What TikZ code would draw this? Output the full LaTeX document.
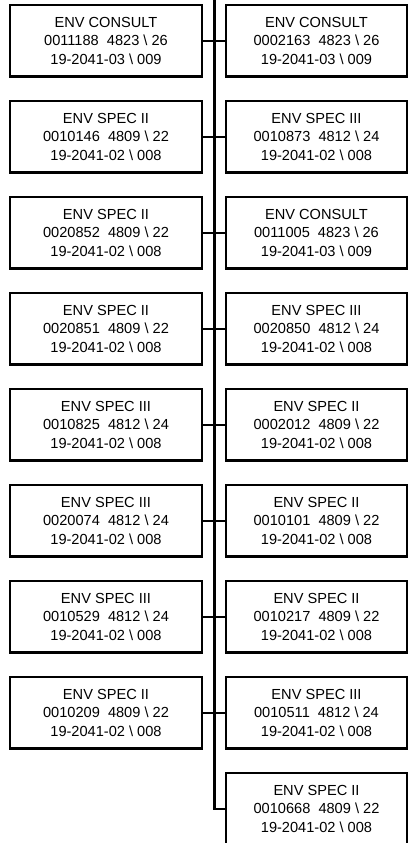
\documentclass[tikz,border=0pt]{standalone}
\usepackage{fontspec}
\setmainfont{Liberation Sans}
\newcommand{\bs}{\ \textbackslash\ }
\newcommand{\gap}{\ \ }
\begin{document}
\begin{tikzpicture}[x=1pt,y=-1pt,
  card/.style={draw=black, line width=2.3pt, rectangle, minimum height=71.5pt,
    inner sep=0pt, align=center, font=\fontsize{14.6}{18.3}\selectfont},
  lcard/.style={card, minimum width=192pt},
  rcard/.style={card, minimum width=181pt},
  link/.style={draw=black, line width=2.3pt}]
\useasboundingbox (0,0) rectangle (409,843);
\clip (0,0) rectangle (409,843);
% left column
\node[lcard] (l1) at (106,40.75) {ENV CONSULT\\0011188\gap4823\bs26\\19-2041-03\bs009};
\node[lcard] (l2) at (106,136.75) {ENV SPEC II\\0010146\gap4809\bs22\\19-2041-02\bs008};
\node[lcard] (l3) at (106,232.75) {ENV SPEC II\\0020852\gap4809\bs22\\19-2041-02\bs008};
\node[lcard] (l4) at (106,328.75) {ENV SPEC II\\0020851\gap4809\bs22\\19-2041-02\bs008};
\node[lcard] (l5) at (106,424.75) {ENV SPEC III\\0010825\gap4812\bs24\\19-2041-02\bs008};
\node[lcard] (l6) at (106,520.75) {ENV SPEC III\\0020074\gap4812\bs24\\19-2041-02\bs008};
\node[lcard] (l7) at (106,616.75) {ENV SPEC III\\0010529\gap4812\bs24\\19-2041-02\bs008};
\node[lcard] (l8) at (106,712.75) {ENV SPEC II\\0010209\gap4809\bs22\\19-2041-02\bs008};
% right column
\node[rcard] (r1) at (316.5,40.75) {ENV CONSULT\\0002163\gap4823\bs26\\19-2041-03\bs009};
\node[rcard] (r2) at (316.5,136.75) {ENV SPEC III\\0010873\gap4812\bs24\\19-2041-02\bs008};
\node[rcard] (r3) at (316.5,232.75) {ENV CONSULT\\0011005\gap4823\bs26\\19-2041-03\bs009};
\node[rcard] (r4) at (316.5,328.75) {ENV SPEC III\\0020850\gap4812\bs24\\19-2041-02\bs008};
\node[rcard] (r5) at (316.5,424.75) {ENV SPEC II\\0002012\gap4809\bs22\\19-2041-02\bs008};
\node[rcard] (r6) at (316.5,520.75) {ENV SPEC II\\0010101\gap4809\bs22\\19-2041-02\bs008};
\node[rcard] (r7) at (316.5,616.75) {ENV SPEC II\\0010217\gap4809\bs22\\19-2041-02\bs008};
\node[rcard] (r8) at (316.5,712.75) {ENV SPEC III\\0010511\gap4812\bs24\\19-2041-02\bs008};
\node[rcard] (r9) at (316.5,808.75) {ENV SPEC II\\0010668\gap4809\bs22\\19-2041-02\bs008};
% trunk
\coordinate (top) at (214.5,-2);
\draw[link] (top) -- (top |- r9.west) -- (r9.west);
\foreach \i in {1,...,8} {
  \draw[link] (l\i.east) -- (r\i.west);
}
\end{tikzpicture}
\end{document}
